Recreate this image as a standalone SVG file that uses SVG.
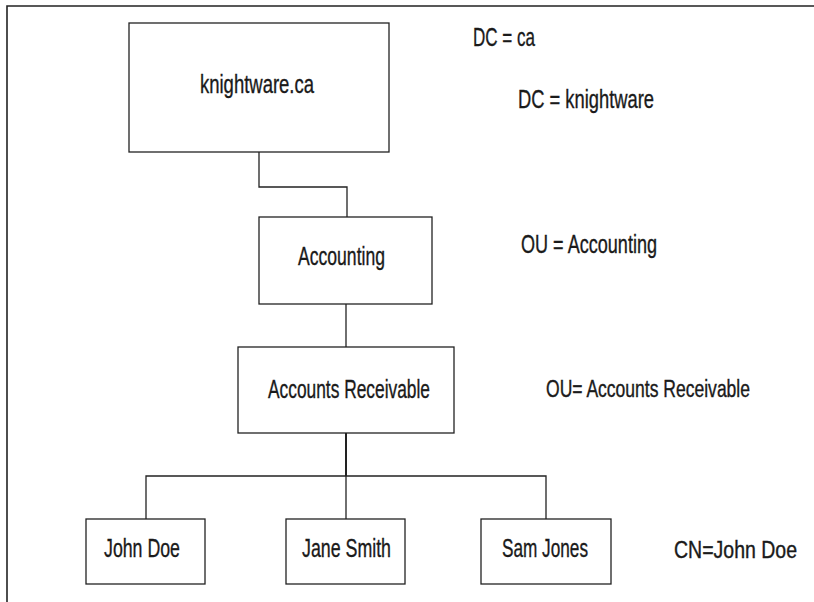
<svg xmlns="http://www.w3.org/2000/svg" width="814" height="602" viewBox="0 0 814 602">
<style>
.box{fill:#fff;stroke:#222;stroke-width:1.3}
.lbl{font-family:"Liberation Sans","DejaVu Sans",sans-serif;font-size:25px;fill:#1a1a1a;stroke:#1a1a1a;stroke-width:0.35}
.sm{font-size:21.5px}
.wire{fill:none;stroke:#222;stroke-width:1.3}
.frame{fill:none;stroke:#222;stroke-width:1.6}
</style>
<rect width="814" height="602" fill="#fff"/>
<path class="frame" d="M7,602 V6 H814"/>
<g id="connectors">
<path class="wire" d="M259,152 V187 H347 V217"/>
<path class="wire" d="M346,304 V347"/>
<path class="wire" d="M346,433 V476" style="stroke-width:2"/>
<path class="wire" d="M146,519 V476 H546 V519"/>
<path class="wire" d="M346,476 V519"/>
</g>
<g id="knightware">
<rect class="box" x="129" y="23" width="260" height="129"/>
<text class="lbl" x="200" y="93" textLength="114" lengthAdjust="spacingAndGlyphs">knightware.ca</text>
</g>
<g id="accounting">
<rect class="box" x="259" y="217" width="173" height="87"/>
<text class="lbl" x="298" y="265" textLength="87" lengthAdjust="spacingAndGlyphs">Accounting</text>
</g>
<g id="receivable">
<rect class="box" x="238" y="347" width="216" height="86"/>
<text class="lbl" x="268" y="398" textLength="162" lengthAdjust="spacingAndGlyphs">Accounts Receivable</text>
</g>
<g id="john">
<rect class="box" x="86" y="519" width="119" height="65"/>
<text class="lbl" x="104" y="557" textLength="76" lengthAdjust="spacingAndGlyphs">John Doe</text>
</g>
<g id="jane">
<rect class="box" x="286" y="519" width="119" height="65"/>
<text class="lbl" x="302" y="557" textLength="89" lengthAdjust="spacingAndGlyphs">Jane Smith</text>
</g>
<g id="sam">
<rect class="box" x="481" y="519" width="130" height="65"/>
<text class="lbl" x="502" y="557" textLength="86" lengthAdjust="spacingAndGlyphs">Sam Jones</text>
</g>
<g id="annotations">
<text class="lbl" x="473" y="46" textLength="62" lengthAdjust="spacingAndGlyphs">DC = ca</text>
<text class="lbl" x="518" y="108" textLength="136" lengthAdjust="spacingAndGlyphs">DC = knightware</text>
<text class="lbl" x="521" y="253" textLength="136" lengthAdjust="spacingAndGlyphs">OU = Accounting</text>
<text class="lbl sm" transform="translate(546,397) scale(1,1.15)" x="0" y="0" textLength="204" lengthAdjust="spacingAndGlyphs">OU= Accounts Receivable</text>
<text class="lbl sm" transform="translate(674,558) scale(1,1.15)" x="0" y="0" textLength="123" lengthAdjust="spacingAndGlyphs">CN=John Doe</text>
</g>
</svg>
